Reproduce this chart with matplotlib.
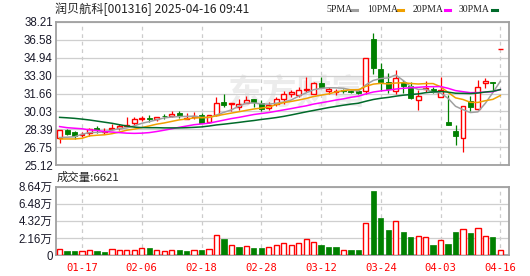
import matplotlib
matplotlib.use("Agg")
import matplotlib.pyplot as plt
from matplotlib.lines import Line2D

# trading days shown (2025-01-14 .. 2025-04-16)
dates = ["01-14", "01-15", "01-16", "01-17", "01-20", "01-21", "01-22", "01-23", "01-24", "01-27",
         "02-05", "02-06", "02-07", "02-10", "02-11", "02-12", "02-13", "02-14", "02-17", "02-18",
         "02-19", "02-20", "02-21", "02-24", "02-25", "02-26", "02-27", "02-28", "03-03", "03-04",
         "03-05", "03-06", "03-07", "03-10", "03-11", "03-12", "03-13", "03-14", "03-17", "03-18",
         "03-19", "03-20", "03-21", "03-24", "03-25", "03-26", "03-27", "03-28", "03-31", "04-01",
         "04-02", "04-03", "04-07", "04-08", "04-09", "04-10", "04-11", "04-14", "04-15", "04-16"]

opens = [27.58, 28.34, 28.16, 27.88, 28.07, 28.55, 28.20, 28.46, 28.49, 28.70,
         28.95, 29.36, 29.40, 29.34, 29.60, 29.62, 29.86, 29.35, 29.55, 29.73,
         29.10, 29.75, 30.92, 30.68, 30.40, 30.83, 31.16, 30.77, 30.31, 30.71,
         31.17, 31.62, 31.56, 31.98, 31.62, 32.65, 31.92, 31.83, 31.98, 31.89,
         31.92, 31.89, 36.63, 33.87, 32.74, 31.90, 32.74, 32.38, 31.07, 32.07,
         32.07, 31.32, 29.04, 28.25, 27.58, 31.00, 30.22, 32.59, 32.70, 35.69]
highs = [28.31, 28.46, 28.28, 28.16, 28.52, 28.70, 28.52, 28.85, 28.85, 29.55,
         29.55, 29.58, 29.74, 29.55, 29.77, 30.07, 30.10, 29.86, 30.00, 29.86,
         29.75, 31.35, 31.62, 30.77, 31.20, 31.44, 31.16, 31.07, 30.86, 31.38,
         31.92, 31.98, 32.29, 33.14, 32.74, 33.14, 32.29, 32.08, 32.08, 31.98,
         31.98, 34.87, 37.18, 34.42, 33.56, 33.81, 32.90, 32.74, 32.00, 32.80,
         32.29, 33.14, 31.53, 28.76, 30.56, 31.47, 32.90, 33.10, 32.74, 35.69]
lows = [27.18, 27.88, 27.52, 27.67, 27.82, 28.10, 28.00, 28.34, 28.34, 28.60,
        28.70, 29.16, 29.10, 29.16, 29.30, 29.50, 29.46, 29.30, 29.37, 28.95,
        28.95, 29.60, 30.40, 30.10, 30.20, 30.77, 30.40, 30.10, 30.16, 30.53,
        30.71, 31.38, 31.38, 31.83, 31.62, 32.14, 31.62, 31.50, 31.68, 31.68,
        31.62, 31.62, 33.47, 31.92, 31.70, 31.62, 31.68, 31.16, 30.17, 31.80,
        31.68, 31.32, 28.83, 26.95, 26.30, 30.10, 30.16, 32.14, 31.95, 35.69]
closes = [28.31, 28.00, 27.79, 28.00, 28.43, 28.37, 28.25, 28.55, 28.70, 28.76,
          29.34, 29.40, 29.32, 29.55, 29.58, 29.77, 29.58, 29.40, 29.65, 29.00,
          29.70, 30.77, 30.62, 30.77, 30.70, 31.07, 30.86, 30.22, 30.59, 31.16,
          31.62, 31.77, 31.98, 32.08, 32.59, 32.23, 32.08, 31.92, 31.90, 31.80,
          31.74, 34.87, 34.00, 32.74, 32.10, 33.05, 32.38, 31.22, 31.44, 32.14,
          31.77, 31.98, 28.83, 27.79, 30.56, 30.47, 32.29, 32.80, 32.65, 35.69]

ma5 = [27.65, 27.68, 27.72, 27.95, 28.11, 28.12, 28.17, 28.32, 28.46, 28.53,
       28.72, 28.95, 29.10, 29.27, 29.44, 29.52, 29.56, 29.58, 29.60, 29.48,
       29.47, 29.70, 29.95, 30.17, 30.51, 30.79, 30.80, 30.72, 30.69, 30.78,
       30.89, 31.07, 31.42, 31.72, 32.01, 32.13, 32.19, 32.18, 32.14, 31.99,
       31.89, 32.45, 32.86, 33.03, 33.09, 33.35, 32.85, 32.30, 32.04, 32.05,
       31.79, 31.71, 31.23, 30.50, 30.19, 29.93, 29.99, 30.78, 31.75, 32.78]
ma10 = [27.52, 27.52, 27.52, 27.58, 27.80, 27.86, 27.90, 28.00, 28.15, 28.32,
        28.42, 28.56, 28.71, 28.87, 28.98, 29.12, 29.26, 29.34, 29.44, 29.46,
        29.50, 29.63, 29.76, 29.88, 30.00, 30.13, 30.25, 30.34, 30.43, 30.65,
        30.84, 30.94, 31.07, 31.21, 31.39, 31.51, 31.63, 31.80, 31.93, 32.00,
        32.01, 32.32, 32.52, 32.59, 32.54, 32.62, 32.65, 32.58, 32.53, 32.57,
        32.57, 32.28, 31.77, 31.27, 31.12, 30.86, 30.85, 31.01, 31.13, 31.48]
ma20 = [28.65, 28.55, 28.50, 28.45, 28.35, 28.30, 28.20, 28.15, 28.10, 28.05,
        28.03, 28.05, 28.10, 28.20, 28.32, 28.45, 28.58, 28.70, 28.82, 28.89,
        28.96, 29.10, 29.24, 29.38, 29.49, 29.62, 29.75, 29.84, 29.93, 30.05,
        30.17, 30.29, 30.42, 30.54, 30.70, 30.82, 30.94, 31.07, 31.18, 31.32,
        31.42, 31.63, 31.80, 31.90, 31.97, 32.07, 32.14, 32.19, 32.23, 32.28,
        32.29, 32.30, 32.14, 31.93, 31.83, 31.74, 31.75, 31.79, 31.83, 32.03]
ma30 = [29.49, 29.45, 29.40, 29.33, 29.25, 29.15, 29.05, 28.95, 28.82, 28.70,
        28.60, 28.56, 28.55, 28.55, 28.53, 28.53, 28.53, 28.55, 28.58, 28.62,
        28.70, 28.80, 28.87, 28.95, 29.03, 29.12, 29.20, 29.30, 29.38, 29.47,
        29.58, 29.71, 29.85, 29.99, 30.12, 30.25, 30.38, 30.49, 30.60, 30.70,
        30.78, 30.96, 31.12, 31.23, 31.31, 31.42, 31.51, 31.57, 31.63, 31.74,
        31.81, 31.85, 31.79, 31.69, 31.68, 31.66, 31.71, 31.80, 31.87, 32.02]

volume = [7200, 5050, 5050, 4630, 5900, 5050, 3800, 7150, 5900, 5900,
          6300, 8400, 8840, 5900, 4630, 5900, 6300, 5050, 5900, 6300,
          7150, 24840, 20200, 12200, 10100, 10950, 8840, 8840, 9700, 12200,
          14700, 12200, 14700, 19800, 16000, 12600, 10100, 10100, 5900, 6300,
          6300, 40000, 80800, 46700, 31600, 42500, 29000, 22700, 23600, 22300,
          12600, 18500, 13900, 29000, 32400, 27800, 33700, 23600, 22700, 6621]
# R = red hollow bar, G = green filled bar
vol_color = "RGGRRGGRRR" "RRGRRRGGRG" "RRGRGRGGRR" "RRRRRGGGRG" "GRGGGRGGRR" "GRGGRGRRGR"

price_ticks = [25.12, 26.75, 28.39, 30.03, 31.66, 33.30, 34.94, 36.58, 38.21]
vol_ticks = [0, 21600, 43200, 64800, 86400]
vol_labels = ["0", "2.16万", "4.32万", "6.48万", "8.64万"]
title = "润贝航科[001316] 2025-04-16 09:41"
last_vol_text = "成交量:6621"

RED = "#ff0000"
GREEN = "#008000"
ma_styles = [("5PMA", ma5, "#a0a0a0"), ("10PMA", ma10, "#f0a000"),
             ("20PMA", ma20, "#ff00ff"), ("30PMA", ma30, "#006a2a")]

W, H = 530, 276
fig = plt.figure(figsize=(W / 100, H / 100), dpi=100)
fig.patch.set_facecolor("white")
L, R = 55.5 / W, 509 / W
ax = fig.add_axes([L, 1 - 165.3 / H, R - L, (165.3 - 21.7) / H])
axv = fig.add_axes([L, 1 - 255 / H, R - L, (255 - 186.7) / H])

x = list(range(len(dates)))
tick_idx = list(range(3, len(dates), 8))

for a in (ax, axv):
    a.set_xlim(-0.55, 60.16)
    for s in a.spines.values():
        s.set_color("#a0a0a0")
        s.set_linewidth(1.3)
    a.tick_params(length=0, pad=2)
    a.set_xticks(tick_idx)
    a.xaxis.grid(True, color="#cccccc", linestyle=(0, (3, 3)), linewidth=0.9)
    a.yaxis.grid(True, color="#cfcfcf", linestyle="-", linewidth=0.9)
    a.set_axisbelow(True)

# price pane
ax.set_ylim(price_ticks[0], price_ticks[-1])
ax.set_yticks(price_ticks)
ax.set_yticklabels(["%.2f" % t for t in price_ticks], fontsize=8.3,
                   family="Liberation Sans", color="#1a1a2a")
ax.set_xticklabels([])
ax.text(0.38, 0.5, "东方财富", transform=ax.transAxes, fontsize=25,
        family="Noto Sans CJK SC", weight="bold", color="#ececec",
        va="center", ha="left", zorder=0)

bw = 0.66
for i in x:
    o, h, l, c = opens[i], highs[i], lows[i], closes[i]
    up = c >= o
    top, bot = max(o, c), min(o, c)
    body = max(top - bot, 0.03)
    if up:
        ax.vlines(i, top, h, color=RED, linewidth=0.9, zorder=3)
        ax.vlines(i, l, bot, color=RED, linewidth=0.9, zorder=3)
        ax.bar(i, body, bw, bot, facecolor="white", edgecolor=RED,
               linewidth=1.0, zorder=3)
    else:
        ax.vlines(i, l, h, color=GREEN, linewidth=0.9, zorder=3)
        ax.bar(i, body, bw, bot, facecolor=GREEN, edgecolor=GREEN,
               linewidth=0.6, zorder=3)

for name, vals, col in ma_styles:
    ax.plot(x, vals, color=col, linewidth=1.1, zorder=4)

# volume pane
axv.set_ylim(0, vol_ticks[-1])
axv.set_yticks(vol_ticks)
axv.set_yticklabels(vol_labels, fontsize=8.3,
                    family=["Liberation Sans", "Noto Sans CJK SC"], color="#1a1a2a")
axv.set_xticklabels([dates[i] for i in tick_idx], fontsize=7.6,
                    family="DejaVu Sans Mono", color=RED)
axv.tick_params(axis="x", pad=6)
for i in x:
    if vol_color[i] == "R":
        axv.bar(i, volume[i], 0.7, facecolor="white", edgecolor=RED,
                linewidth=1.0, zorder=3)
    else:
        axv.bar(i, volume[i], 0.7, facecolor=GREEN, edgecolor=GREEN,
                linewidth=0.5, zorder=3)

# header texts
fig.text(55 / W, 1 - 9 / H, title, fontsize=8.7,
         family=["Noto Sans CJK SC", "DejaVu Sans"], color="#222222",
         va="center", ha="left")
fig.text(57 / W, 1 - 177 / H, last_vol_text, fontsize=8.2,
         family=["Noto Sans CJK SC", "DejaVu Sans"], color="#222222",
         va="center", ha="left")

# MA legend
leg_pos = [(326, 352), (367, 398), (413, 445), (459, 492)]
for (tx, dx), (name, vals, col) in zip(leg_pos, ma_styles):
    fig.text(tx / W, 1 - 9 / H, name, fontsize=7.0, family="Liberation Serif",
             color="#222222", va="center", ha="left")
    fig.add_artist(Line2D([dx / W, (dx + 5) / W], [1 - 9.5 / H, 1 - 9.5 / H],
                          color=col, linewidth=2.2, transform=fig.transFigure))

fig.savefig("out.png", dpi=100, facecolor="white")
